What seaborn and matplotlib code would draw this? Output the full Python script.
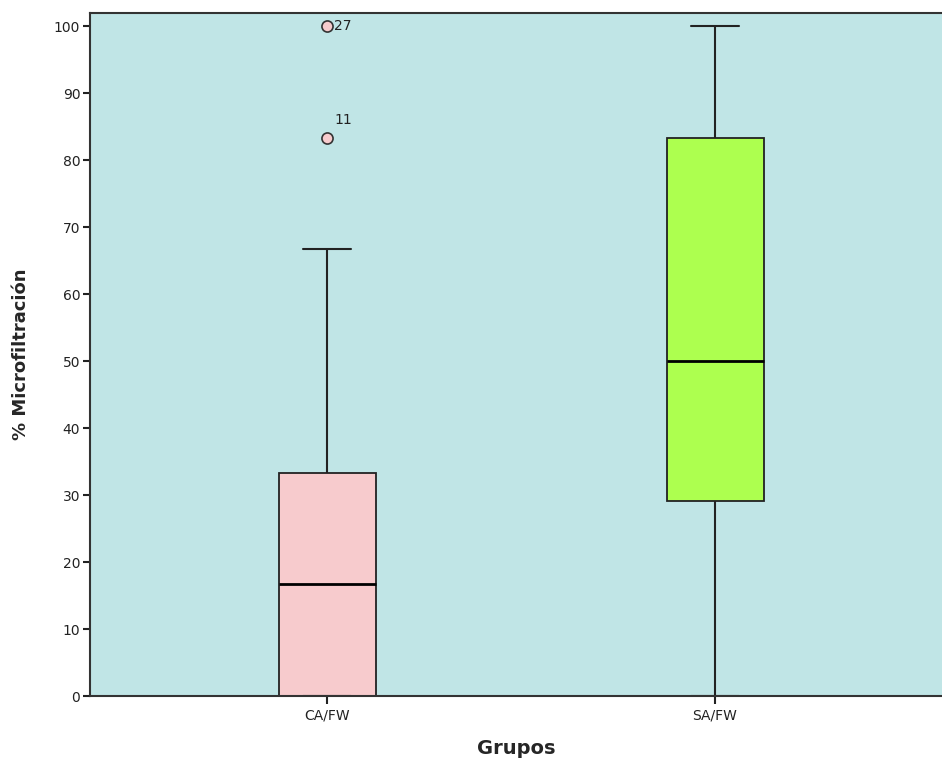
import matplotlib
matplotlib.use("Agg")
import matplotlib.pyplot as plt
import seaborn as sns
import pandas as pd
import numpy as np

groups = ["CA/FW", "SA/FW"]
ca_values = [0, 0, 0, 0, 0, 16.67, 16.67, 16.67, 16.67, 33.33, 33.33, 33.33, 66.67, 83.33, 100]
sa_values = [0, 16.67, 25, 25, 33.33, 41.67, 50, 50, 58.33, 66.67, 83.33, 83.33, 83.33, 100, 100]
outlier_labels = {83.33: "11", 100: "27"}
box_colors = ["#F7CBCD", "#ADFF4F"]

df = pd.DataFrame({
    "Grupos": [groups[0]] * len(ca_values) + [groups[1]] * len(sa_values),
    "value": ca_values + sa_values,
})

sns.set_style("white")
plt.rcParams['font.family'] = ['DejaVu Sans']

fig = plt.figure(figsize=(9.42, 7.64), dpi=100)
ax = fig.add_axes([90/942, (764-696)/764, (942-90)/942, (696-13)/764])
ax.set_facecolor("#C0E5E6")

sns.boxplot(data=df, x="Grupos", y="value", hue="Grupos", palette=box_colors,
            order=groups, hue_order=groups, legend=False, width=0.25, whis=1.2,
            saturation=1, linewidth=1.3, linecolor="#222222",
            medianprops=dict(color="black", linewidth=2),
            capprops=dict(color="#222222", linewidth=1.5),
            whiskerprops=dict(color="#222222", linewidth=1.5),
            flierprops=dict(marker="o", markerfacecolor="#F7CBCD", markeredgecolor="#333333",
                            markersize=8, markeredgewidth=1.2),
            ax=ax)

# outlier labels
for val, lab in outlier_labels.items():
    if val == 100:
        ax.annotate(lab, (0, val), xytext=(5, 0), textcoords="offset points",
                    ha="left", va="center", fontsize=10, color="#222222")
    else:
        ax.annotate(lab, (0, val), xytext=(5, 8), textcoords="offset points",
                    ha="left", va="bottom", fontsize=10, color="#222222")

ax.set_ylim(0, 101.95)
ax.set_xlim(-0.611, 1.585)
ax.set_yticks(np.arange(0, 101, 10))
ax.tick_params(axis="y", direction="out", length=5, width=1.5, labelsize=10, colors="#222222", pad=2, left=True)
ax.tick_params(axis="x", direction="out", length=6, width=1.5, labelsize=10, colors="#222222", pad=3, bottom=True)
for s in ["left", "bottom", "top"]:
    ax.spines[s].set_visible(True)
    ax.spines[s].set_color("#333333")
    ax.spines[s].set_linewidth(1.5)
ax.spines["right"].set_visible(False)

ax.set_ylabel("% Microfiltración", fontsize=13, fontweight="bold", labelpad=17)
ax.set_xlabel("Grupos", fontsize=14, fontweight="bold", labelpad=12)

fig.savefig("out.png", dpi=100)
